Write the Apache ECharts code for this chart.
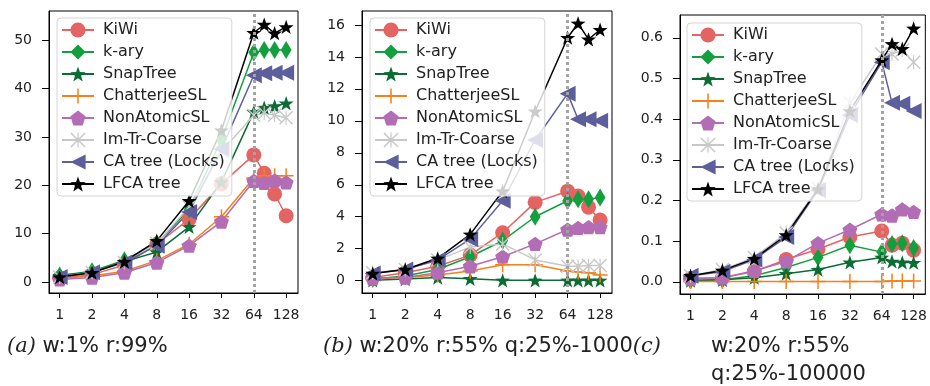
<!DOCTYPE html>
<html>
<head>
<meta charset="utf-8">
<script src="https://cdn.jsdelivr.net/npm/echarts@6/dist/echarts.min.js"></script>
<style>
html,body{margin:0;padding:0;background:#fff;}
#chart{width:930px;height:386px;}
</style>
</head>
<body>
<div id="chart"></div>
<script>
// ---- data ----
const threads = [1, 2, 4, 8, 16, 32, 64, 80, 100, 128];
const seriesNames = ['KiWi', 'k-ary', 'SnapTree', 'ChatterjeeSL', 'NonAtomicSL', 'Im-Tr-Coarse', 'CA tree (Locks)', 'LFCA tree'];
const xTickValues = [1, 2, 4, 8, 16, 32, 64, 128];
const aTickValues = [0, 10, 20, 30, 40, 50];
const bTickValues = [0, 2, 4, 6, 8, 10, 12, 14, 16];
const cTickValues = [0, 0.1, 0.2, 0.3, 0.4, 0.5, 0.6];
const captionA = 'w:1% r:99%';
const captionB = 'w:20% r:55% q:25%-1000';
const captionC1 = 'w:20% r:55%';
const captionC2 = 'q:25%-100000';

// panel (a) w:1% r:99%
const aKiWi   = [0.8, 1.5, 3.5, 7.8, 13.0, 20.3, 26.3, 22.5, 18.2, 13.7];
const aKary   = [1.3, 2.2, 4.5, 8.0, 15.0, 29.5, 47.5, 48.0, 48.0, 48.0];
const aSnap   = [1.3, 2.0, 4.2, 6.2, 11.4, 20.7, 35.2, 36.1, 36.4, 37.0];
const aChat   = [0.7, 1.2, 2.2, 4.4, 7.8, 13.5, 21.5, 22.0, 22.0, 22.0];
const aNonAt  = [0.5, 0.9, 1.9, 4.0, 7.5, 12.5, 20.9, 20.5, 21.0, 20.6];
const aImTr   = [1.0, 2.0, 4.0, 8.0, 15.5, 27.0, 34.5, 35.0, 34.5, 34.0];
const aCA     = [1.0, 2.0, 4.0, 7.5, 14.5, 27.5, 42.8, 43.2, 43.3, 43.3];
const aLFCA   = [1.0, 1.9, 4.2, 8.5, 16.8, 31.4, 51.6, 53.3, 51.5, 52.8];

// panel (b) w:20% r:55% q:25%-1000
const bKiWi   = [0.2, 0.5, 0.9, 1.6, 3.0, 4.9, 5.6, 5.3, 4.6, 3.8];
const bKary   = [0.1, 0.3, 0.7, 1.5, 2.5, 4.0, 5.0, 5.1, 5.1, 5.2];
const bSnap   = [0.02, 0.1, 0.2, 0.12, 0.02, 0.02, 0.02, 0.02, 0.02, 0.02];
const bChat   = [0.1, 0.2, 0.35, 0.6, 1.0, 1.0, 0.6, 0.55, 0.5, 0.35];
const bNonAt  = [0.15, 0.2, 0.5, 0.9, 1.5, 2.3, 3.2, 3.3, 3.35, 3.35];
const bImTr   = [0.5, 0.7, 1.3, 2.1, 2.3, 1.3, 0.9, 0.9, 0.95, 0.95];
const bCA     = [0.45, 0.7, 1.3, 2.6, 5.0, 8.8, 11.7, 10.1, 10.1, 10.0];
const bLFCA   = [0.45, 0.7, 1.4, 2.9, 5.6, 10.6, 15.2, 16.1, 15.1, 15.7];

// panel (c) w:20% r:55% q:25%-100000
const cKiWi   = [0.008, 0.01, 0.025, 0.055, 0.08, 0.11, 0.125, 0.09, 0.095, 0.078];
const cKary   = [0.003, 0.005, 0.015, 0.035, 0.06, 0.09, 0.073, 0.093, 0.095, 0.083];
const cSnap   = [0.003, 0.005, 0.01, 0.02, 0.03, 0.048, 0.06, 0.05, 0.048, 0.047];
const cChat   = [0.001, 0.001, 0.001, 0.001, 0.001, 0.001, 0.001, 0.002, 0.002, 0.002];
const cNonAt  = [0.008, 0.01, 0.027, 0.05, 0.095, 0.128, 0.166, 0.163, 0.178, 0.172];
const cImTr   = [0.015, 0.03, 0.06, 0.12, 0.23, 0.44, 0.56, 0.56, 0.57, 0.54];
const cCA     = [0.015, 0.025, 0.055, 0.11, 0.225, 0.41, 0.54, 0.44, 0.438, 0.42];
const cLFCA   = [0.015, 0.028, 0.057, 0.115, 0.228, 0.42, 0.545, 0.585, 0.573, 0.623];

// ---- styles ----
const colors = ['#e46463', '#12a03e', '#0b6c34', '#f58119', '#b26db4', '#c8c8c8', '#5d5f9d', '#000000'];
const STAR = 'path://M0,-10 L2.35,-3.24 L9.51,-3.09 L3.8,1.24 L5.88,8.09 L0,4 L-5.88,8.09 L-3.8,1.24 L-9.51,-3.09 L-2.35,-3.24 Z';
const PLUS = 'path://M-1,-10 L1,-10 L1,-1 L10,-1 L10,1 L1,1 L1,10 L-1,10 L-1,1 L-10,1 L-10,-1 L-1,-1 Z';
const PENT = 'path://M0,-10 L9.51,-3.09 L5.88,8.09 L-5.88,8.09 L-9.51,-3.09 Z';
const XMARK = 'path://M-10,-8.6 L-8.6,-10 L10,8.6 L8.6,10 Z M8.6,-10 L10,-8.6 L-8.6,10 L-10,8.6 Z M-0.8,-10 L0.8,-10 L0.8,10 L-0.8,10 Z';
const LTRI = 'path://M-10,0 L10,-10 L10,10 Z';
const DIAM = 'path://M0,-10 L6,0 L0,10 L-6,0 Z';
const symbols = ['circle', DIAM, STAR, PLUS, PENT, XMARK, LTRI, STAR];
const symbolSizes = [15, 18, 15, 15, 15, 14, 16, 15];

const panels = [
  {data: [aKiWi, aKary, aSnap, aChat, aNonAt, aImTr, aCA, aLFCA], ticks: aTickValues,
   grid: {left: 49, top: 11, width: 249, height: 282}, ymin: -2.3, ymax: 56.1, legend: {left: 57, top: 18}, fmt: v => String(v)},
  {data: [bKiWi, bKary, bSnap, bChat, bNonAt, bImTr, bCA, bLFCA], ticks: bTickValues,
   grid: {left: 362, top: 11, width: 250, height: 282}, ymin: -0.77, ymax: 16.87, legend: {left: 370, top: 18}, fmt: v => String(v)},
  {data: [cKiWi, cKary, cSnap, cChat, cNonAt, cImTr, cCA, cLFCA], ticks: cTickValues,
   grid: {left: 680, top: 15, width: 246, height: 279}, ymin: -0.030, ymax: 0.656, legend: {left: 687, top: 23}, fmt: v => v.toFixed(1)}
];

const grids = [], xAxes = [], yAxes = [], legends = [], series = [];
panels.forEach((p, i) => {
  grids.push(Object.assign({show: true, borderColor: '#000', borderWidth: 1, backgroundColor: 'transparent'}, p.grid));
  xAxes.push({
    type: 'log', logBase: 2, gridIndex: i, min: 0.795, max: 165,
    axisLine: {show: true, onZero: false, lineStyle: {color: '#000', width: 1}},
    axisTick: {show: true, customValues: xTickValues, length: 5, lineStyle: {color: '#000', width: 1}},
    axisLabel: {customValues: xTickValues, fontSize: 14, color: '#222', fontFamily: 'DejaVu Sans', margin: 15,
                formatter: v => String(Math.round(v)), showMinLabel: true, showMaxLabel: true},
    splitLine: {show: false}, minorTick: {show: false}, minorSplitLine: {show: false}
  });
  yAxes.push({
    type: 'value', gridIndex: i, min: p.ymin, max: p.ymax,
    axisLine: {show: true, onZero: false, lineStyle: {color: '#000', width: 1}},
    axisTick: {show: true, customValues: p.ticks, length: 7, lineStyle: {color: '#000', width: 1}},
    axisLabel: {customValues: p.ticks, fontSize: 14, color: '#222', fontFamily: 'DejaVu Sans', margin: 17,
                formatter: p.fmt},
    splitLine: {show: false}
  });
  legends.push({
    left: p.legend.left, top: p.legend.top, orient: 'vertical', data: seriesNames,
    itemWidth: 32, itemHeight: 19, itemGap: 6.0, selectedMode: false,
    textStyle: {fontSize: 16, color: '#222', fontFamily: 'DejaVu Sans', padding: [0, 0, 0, 4]},
    backgroundColor: 'rgba(255,255,255,0.8)', borderColor: '#d4d4d4', borderWidth: 1, borderRadius: 4,
    padding: [4, 7, 4, 4], z: 5
  });
  p.data.forEach((vals, k) => {
    const s = {
      type: 'line', name: seriesNames[k], xAxisIndex: i, yAxisIndex: i,
      data: threads.map((t, j) => [t, vals[j]]),
      symbol: symbols[k], symbolSize: symbolSizes[k], symbolKeepAspect: true,
      showAllSymbol: true,
      itemStyle: {color: colors[k], borderWidth: 0},
      lineStyle: {color: colors[k], width: 1.5},
      emphasis: {disabled: true}, silent: true
    };
    if (k === 0) {
      s.markLine = {
        silent: true, symbol: ['none', 'none'], animation: false,
        label: {show: false},
        lineStyle: {color: '#a3a3a3', width: 3, type: [3, 3], cap: 'butt'},
        data: [{xAxis: 64}]
      };
    }
    series.push(s);
  });
});

const chart = echarts.init(document.getElementById('chart'), null, {renderer: 'canvas'});
chart.setOption({
  animation: false,
  backgroundColor: '#fff',
  grid: grids, xAxis: xAxes, yAxis: yAxes, legend: legends, series: series,
  graphic: [
    {type: 'text', left: 7, top: 336, style: {
      text: '{i|(a)} ' + captionA, fill: '#222', fontSize: 21, fontFamily: 'DejaVu Sans',
      rich: {i: {fontStyle: 'italic', fontFamily: 'DejaVu Serif', fontSize: 21, fill: '#222'}}}},
    {type: 'text', left: 323, top: 336, style: {
      text: '{i|(b)} ' + captionB + '{i|(c)}', fill: '#222', fontSize: 21, fontFamily: 'DejaVu Sans',
      rich: {i: {fontStyle: 'italic', fontFamily: 'DejaVu Serif', fontSize: 21, fill: '#222'}}}},
    {type: 'text', left: 711, top: 336, style: {text: captionC1, fill: '#222', fontSize: 21, fontFamily: 'DejaVu Sans'}},
    {type: 'text', left: 711, top: 364, style: {text: captionC2, fill: '#222', fontSize: 21, fontFamily: 'DejaVu Sans'}}
  ]
});
</script>
</body>
</html>
